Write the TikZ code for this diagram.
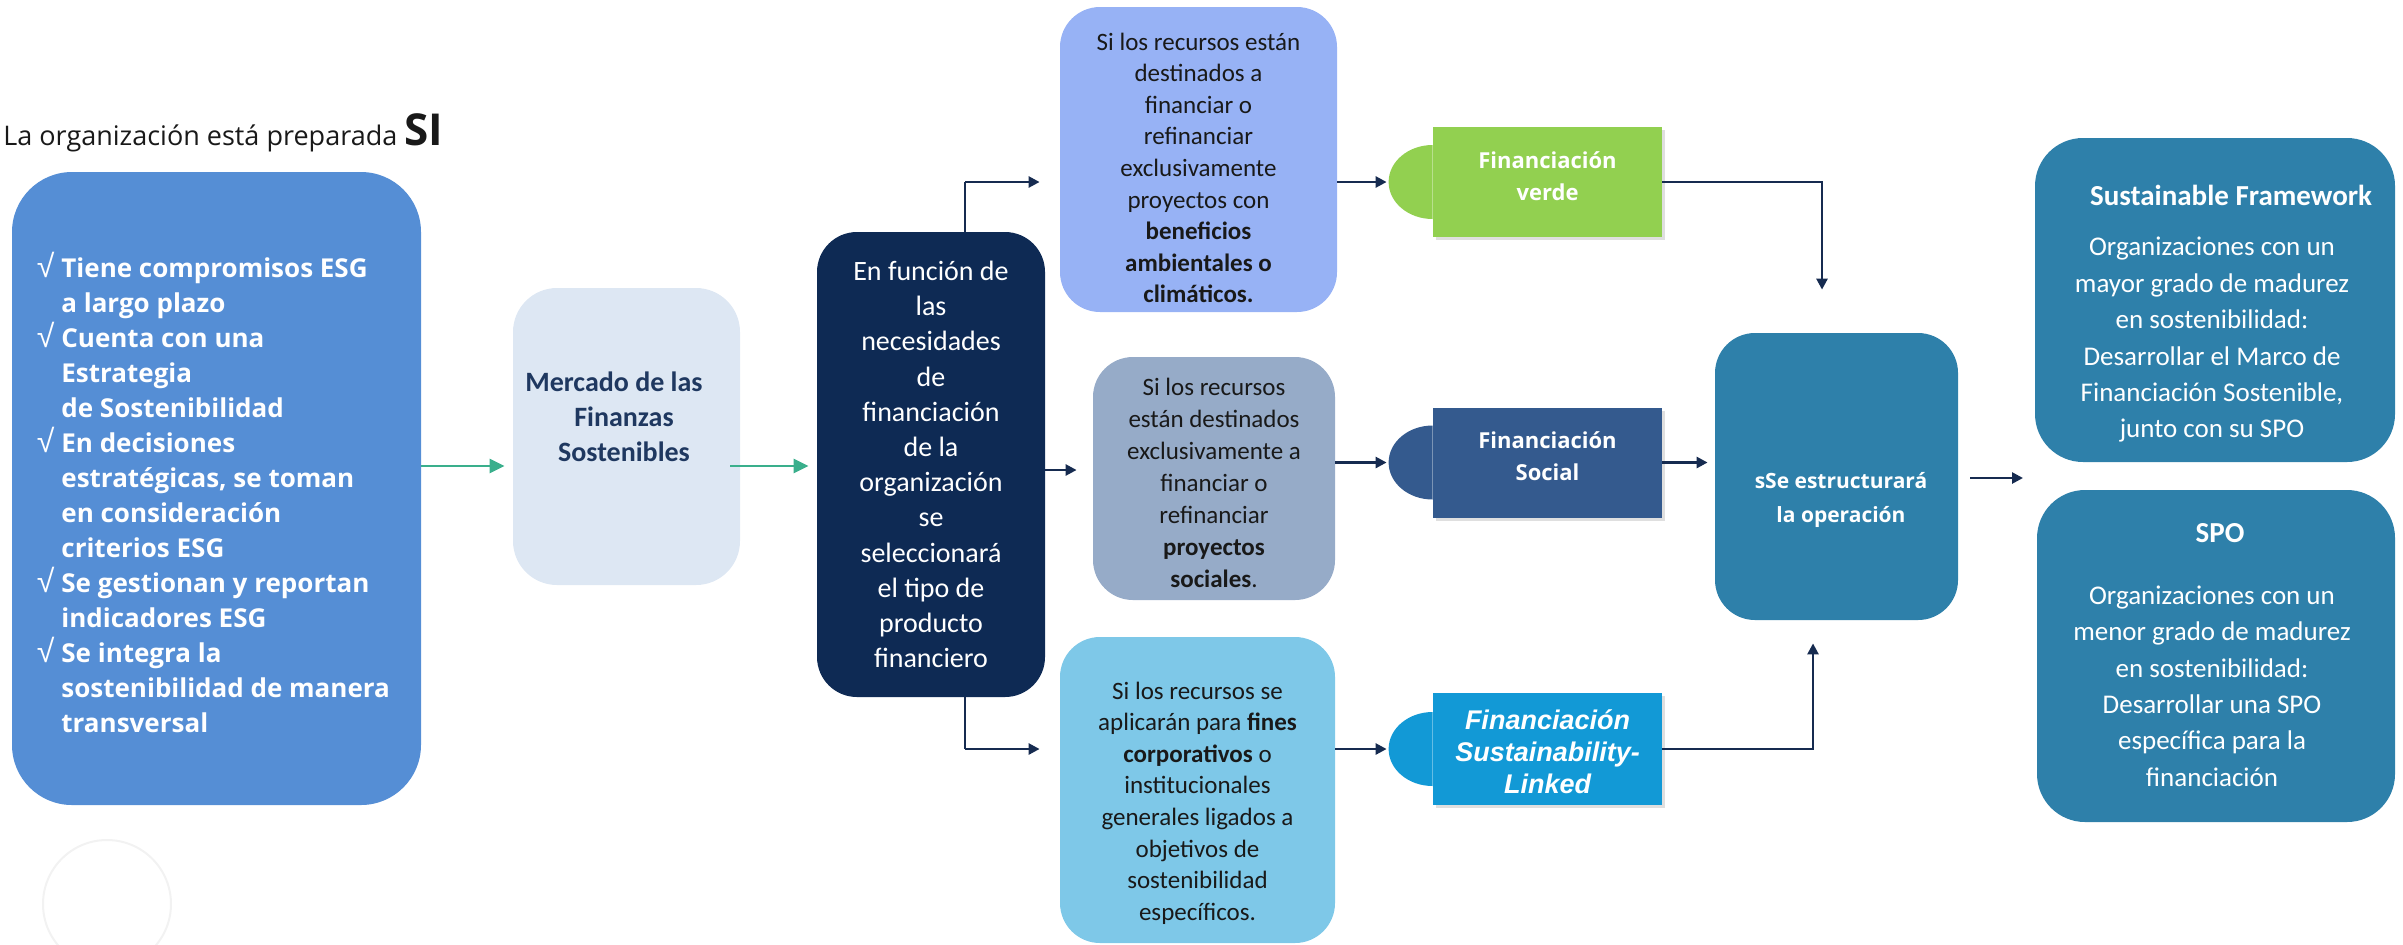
\documentclass[tikz,border=0pt]{standalone}
\usepackage{fontspec}
\setmainfont{Carlito}
\newfontfamily\osans{Open Sans}
\newfontfamily\lsans{Liberation Sans}
\usetikzlibrary{arrows.meta,shadows,calc}
\definecolor{lblue}{RGB}{85,142,213}
\definecolor{mkc}{RGB}{221,231,243}
\definecolor{mtextc}{RGB}{31,56,96}
\definecolor{navybox}{RGB}{14,42,84}
\definecolor{navyc}{RGB}{22,43,80}
\definecolor{garrowc}{RGB}{58,175,140}
\definecolor{tboxc}{RGB}{151,178,245}
\definecolor{sboxc}{RGB}{150,171,200}
\definecolor{bboxc}{RGB}{126,200,232}
\definecolor{txtc}{RGB}{25,25,25}
\definecolor{verdec}{RGB}{146,208,80}
\definecolor{socialc}{RGB}{52,90,142}
\definecolor{slc}{RGB}{18,153,214}
\definecolor{steelc}{RGB}{46,128,170}
\newcommand{\chk}{\llap{{\lsans\mdseries\fontsize{16}{16}\selectfont √}\hspace{3.5pt}}}
\begin{document}
\begin{tikzpicture}[x=0.5pt,y=-0.5pt,
  box/.style={rounded corners=20pt, inner sep=0pt, align=center},
  garrow/.style={draw=garrowc, line width=1.4pt, -{Triangle[length=7.5pt,width=7pt]}},
  narrow/.style={draw=navyc, line width=1.3pt, -{Triangle[length=5.5pt,width=5.5pt]}},
  nline/.style={draw=navyc, line width=1.3pt},
  tab/.style={minimum width=114.5pt, minimum height=55pt, inner sep=0pt,
    drop shadow={opacity=0.25, shadow xshift=1.5pt, shadow yshift=-1.5pt}},
  tabtxt/.style={inner sep=0pt, align=center, text=white, font=\osans\bfseries\fontsize{11}{16}\selectfont},
  bodytxt/.style={inner sep=0pt, align=center, text=white},
  condtxt/.style={inner sep=0pt, align=center, text=txtc}
]
\useasboundingbox (0,0) rectangle (2403,944);

% faint circle
\node[circle, draw=gray!10, line width=1pt, minimum size=64pt, inner sep=0pt] (ghost) at (107,904) {};

% title
\node[anchor=west, inner sep=0pt, text=black!90, font=\osans\fontsize{13.5}{16}\selectfont] (title) at (3,133)
  {La organización está preparada {\bfseries\fontsize{22}{24}\selectfont SI}};

% left box
\node[box, fill=lblue, rounded corners=30pt, minimum width=204.5pt, minimum height=316.5pt] (lbox) at (216.5,488.5) {};
\node[anchor=west, inner sep=0pt, align=left, text=white, font=\osans\bfseries\fontsize{13}{17.5}\selectfont] (ltext) at (61,492)
  {\chk Tiene compromisos ESG\\
   a largo plazo\\
   \chk Cuenta con una\\
   Estrategia\\
   de Sostenibilidad\\
   \chk En decisiones\\
   estratégicas, se toman\\
   en consideración\\
   criterios ESG\\
   \chk Se gestionan y reportan\\
   indicadores ESG\\
   \chk Se integra la\\
   sostenibilidad de manera\\
   transversal};

% mercado
\node[box, fill=mkc, rounded corners=22pt, minimum width=113.5pt, minimum height=148.5pt] (mkbox) at (626.5,436.5) {};
\node[inner sep=0pt, align=center, text=mtextc, font=\bfseries\fontsize{14}{17.5}\selectfont] (mktext) at (624,417)
  {Mercado de las\hspace*{10pt}\\Finanzas\\Sostenibles};

% vertical connector behind dark box
\coordinate (vtop) at (965,182);
\coordinate (vbot) at (965,749);
\draw[nline] (vtop) -- (vbot);

% dark box
\node[box, fill=navybox, minimum width=114pt, minimum height=232.5pt, text=white, font=\fontsize{14}{17.6}\selectfont] (dbox) at (931,464.5)
  {En función de\\las\\necesidades\\de\\financiación\\de la\\organización\\se\\seleccionará\\el tipo de\\producto\\financiero};

% green arrows
\coordinate (gy) at (0,466);
\draw[garrow, shorten >=4pt] (lbox.east |- gy) -- (mkbox.west |- gy);
\draw[garrow, shorten >=4pt, shorten <=-5pt] (mkbox.east |- gy) -- (dbox.west |- gy);

% condition boxes
\node[box, fill=tboxc, minimum width=138.5pt, minimum height=152.5pt] (tbox) at (1198.5,159.5) {};
\node[condtxt, font=\fontsize{12.5}{15.8}\selectfont] (ttext) at (1198.5,168)
  {Si los recursos están\\destinados a\\financiar o\\refinanciar\\exclusivamente\\proyectos con\\\textbf{beneficios}\\\textbf{ambientales o}\\\textbf{climáticos.}};
\node[box, fill=sboxc, minimum width=121pt, minimum height=121.5pt] (sbox) at (1214,478.5) {};
\node[condtxt, font=\fontsize{12.5}{16}\selectfont] (stext) at (1214,483)
  {Si los recursos\\están destinados\\exclusivamente a\\financiar o\\refinanciar\\\textbf{proyectos}\\\textbf{sociales}.};
\node[box, fill=bboxc, minimum width=137.5pt, minimum height=153pt] (bbox) at (1197.5,790) {};
\node[condtxt, font=\fontsize{12.5}{15.8}\selectfont] (btext) at (1197.5,803)
  {Si los recursos se\\aplicarán para \textbf{fines}\\\textbf{corporativos} o\\institucionales\\generales ligados a\\objetivos de\\sostenibilidad\\específicos.};

\coordinate (my) at (0,470);
\draw[narrow, shorten >=10pt] (vtop) -- (tbox.west |- vtop);
\draw[narrow, shorten >=8pt] (dbox.east |- my) -- (sbox.west |- my);
\draw[narrow, shorten >=10pt] (vbot) -- (bbox.west |- vbot);

% tabs
\node[tab, fill=verdec] (gtab) at (1547.5,182) {};
\fill[verdec] ([yshift=18.5pt]gtab.west) arc[start angle=90, end angle=270, x radius=22pt, y radius=18.5pt] -- cycle;
\node[tabtxt] (gtext) at (1547.5,176) {Financiación\\verde};
\node[tab, fill=socialc] (stab) at (1547.5,462.5) {};
\fill[socialc] ([yshift=18.5pt]stab.west) arc[start angle=90, end angle=270, x radius=22pt, y radius=18.5pt] -- cycle;
\node[tabtxt] (stabtext) at (1547.5,456) {Financiación\\Social};
\node[tab, fill=slc, minimum height=56pt] (ltab) at (1547.5,749) {};
\fill[slc] ([yshift=18.5pt]ltab.west) arc[start angle=90, end angle=270, x radius=22pt, y radius=18.5pt] -- cycle;
\node[tabtxt, font=\lsans\bfseries\itshape\fontsize{13.5}{16}\selectfont] (ltext2) at (1547.5,752) {Financiación\\Sustainability-\\Linked};

\draw[narrow, shorten >=23pt] (tbox.east |- gtab.west) -- (gtab.west);
\draw[narrow, shorten >=23pt] (sbox.east |- stab.west) -- (stab.west);
\draw[narrow, shorten >=23pt] (bbox.east |- ltab.west) -- (ltab.west);

% structure box
\node[box, fill=steelc, minimum width=121.5pt, minimum height=143.5pt] (ebox) at (1836.5,476.5) {};
\node[bodytxt, font=\osans\bfseries\fontsize{10.5}{17}\selectfont] (etext) at (1841,500) {sSe estructurará\\la operación};

\coordinate (c1) at (1822,182);
\draw[narrow, shorten >=21.5pt] (gtab.east) -- (c1) -- (c1 |- ebox.north);
\draw[narrow, shorten >=3.5pt] (stab.east) -- (ebox.west |- stab.east);
\coordinate (c3) at (1813,749);
\draw[narrow, shorten >=11.5pt] (ltab.east) -- (c3) -- (c3 |- ebox.south);

% right boxes
\node[box, fill=steelc, rounded corners=24pt, minimum width=180pt, minimum height=162pt] (fbox) at (2215,300) {};
\node[bodytxt, font=\bfseries\fontsize{14.5}{17}\selectfont] (ftitle) at (2231,195) {Sustainable Framework};
\node[bodytxt, font=\fontsize{13.5}{18.2}\selectfont] (ftext) at (2212,340)
  {Organizaciones con un\\mayor grado de madurez\\en sostenibilidad:\\Desarrollar el Marco de\\Financiación Sostenible,\\junto con su SPO};
\node[box, fill=steelc, rounded corners=24pt, minimum width=179pt, minimum height=166pt] (pbox) at (2216,656) {};
\node[bodytxt, font=\bfseries\fontsize{14.5}{17}\selectfont] (ptitle) at (2220,533) {SPO};
\node[bodytxt, font=\fontsize{13.5}{18.2}\selectfont] (ptext) at (2212,686)
  {Organizaciones con un\\menor grado de madurez\\en sostenibilidad:\\Desarrollar una SPO\\específica para la\\financiación};

\coordinate (rtip) at (2023,478);
\draw[narrow, shorten <=6pt] (ebox.east |- rtip) -- (rtip);
\end{tikzpicture}
\end{document}
